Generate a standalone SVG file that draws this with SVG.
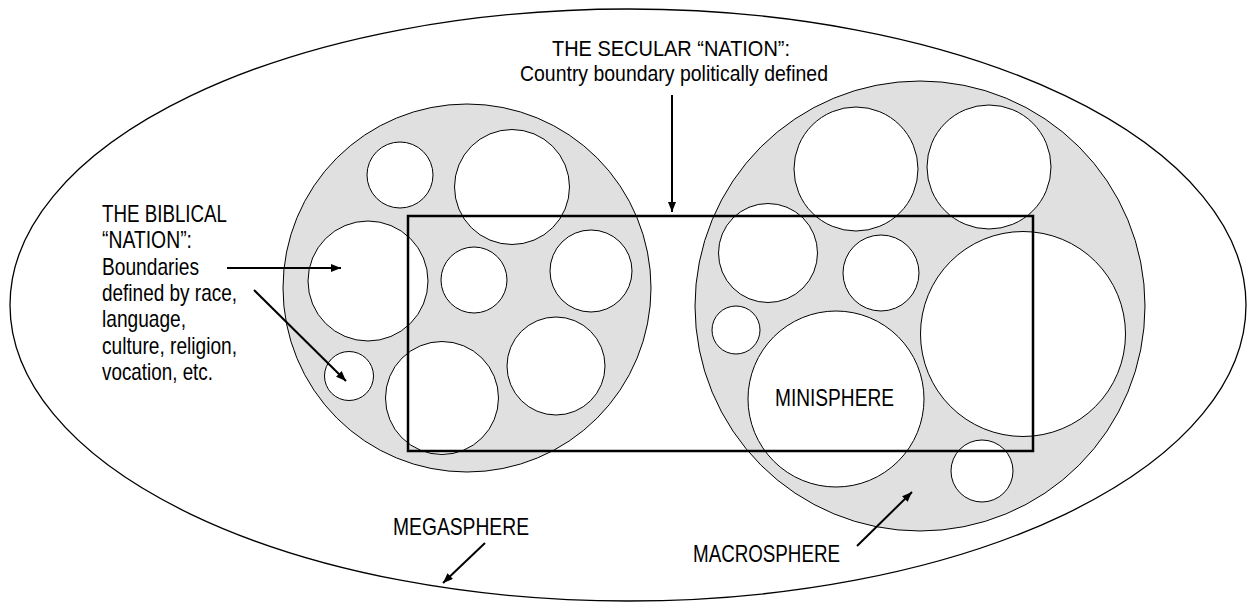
<svg xmlns="http://www.w3.org/2000/svg" width="1248" height="602" viewBox="0 0 1248 602">
<style>
.lbl{font-family:"Liberation Sans Narrow","Liberation Sans",Arial,sans-serif;font-size:24px;fill:#000}
.ttl{font-size:21.5px}
.macro{fill:#e0e0e0;stroke:#000;stroke-width:1}
.mini{fill:#fff;stroke:#000;stroke-width:1}
.arrow{stroke:#000;stroke-width:2;fill:none;marker-end:url(#ah)}
</style>
<defs>
<marker id="ah" markerUnits="userSpaceOnUse" markerWidth="10" markerHeight="8" refX="10" refY="4" orient="auto">
<path d="M0,0 L10,4 L0,8 z" fill="#000"/>
</marker>
</defs>
<rect width="1248" height="602" fill="#fff"/>
<g id="megasphere">
<ellipse cx="628" cy="305" rx="618" ry="296" fill="#fff" stroke="#000" stroke-width="1.3"/>
</g>
<g id="macrosphere-left">
<circle class="macro" cx="467" cy="288" r="184"/>
<circle class="mini" cx="400" cy="175" r="33"/>
<circle class="mini" cx="512" cy="187" r="57.5"/>
<circle class="mini" cx="368" cy="281" r="60"/>
<circle class="mini" cx="474" cy="280" r="33"/>
<circle class="mini" cx="591" cy="271" r="41"/>
<circle class="mini" cx="349" cy="376" r="24.5"/>
<circle class="mini" cx="442" cy="398" r="56.5"/>
<circle class="mini" cx="556" cy="366" r="49"/>
</g>
<g id="macrosphere-right">
<circle class="macro" cx="920" cy="306" r="225"/>
<circle class="mini" cx="856" cy="169" r="62"/>
<circle class="mini" cx="989" cy="167" r="62"/>
<circle class="mini" cx="768" cy="253" r="49.5"/>
<circle class="mini" cx="881" cy="273" r="38"/>
<circle class="mini" cx="1023" cy="334" r="102.5"/>
<circle class="mini" cx="736" cy="330" r="24"/>
<circle class="mini" cx="836" cy="399" r="88"/>
<circle class="mini" cx="982" cy="471" r="31"/>
</g>
<g id="secular-nation">
<rect x="408" y="216" width="625" height="235" fill="none" stroke="#000" stroke-width="2.5"/>
</g>
<g id="label-secular">
<text class="lbl ttl" x="552" y="55.5" textLength="238" lengthAdjust="spacingAndGlyphs">THE  SECULAR  “NATION”:</text>
<text class="lbl ttl" x="520" y="80.5" textLength="308" lengthAdjust="spacingAndGlyphs">Country boundary politically defined</text>
</g>
<g id="label-biblical">
<text class="lbl" x="102" y="221.5" textLength="125" lengthAdjust="spacingAndGlyphs">THE BIBLICAL</text>
<text class="lbl" x="102" y="248" textLength="90" lengthAdjust="spacingAndGlyphs">“NATION”:</text>
<text class="lbl" x="102" y="274.5" textLength="97" lengthAdjust="spacingAndGlyphs">Boundaries</text>
<text class="lbl" x="102" y="301" textLength="135" lengthAdjust="spacingAndGlyphs">defined by race,</text>
<text class="lbl" x="102" y="327" textLength="84" lengthAdjust="spacingAndGlyphs">language,</text>
<text class="lbl" x="102" y="353.5" textLength="135" lengthAdjust="spacingAndGlyphs">culture, religion,</text>
<text class="lbl" x="102" y="380" textLength="111" lengthAdjust="spacingAndGlyphs">vocation, etc.</text>
</g>
<g id="label-minisphere">
<text class="lbl" x="775" y="405.5" textLength="119" lengthAdjust="spacingAndGlyphs">MINISPHERE</text>
</g>
<g id="label-megasphere">
<text class="lbl" x="393" y="535" textLength="136" lengthAdjust="spacingAndGlyphs">MEGASPHERE</text>
</g>
<g id="label-macrosphere">
<text class="lbl" x="693" y="562" textLength="147" lengthAdjust="spacingAndGlyphs">MACROSPHERE</text>
</g>
<g id="connectors">
<line class="arrow" x1="672" y1="95" x2="672" y2="212"/>
<line class="arrow" x1="227" y1="268" x2="341" y2="268"/>
<line class="arrow" x1="254" y1="290" x2="346" y2="381"/>
<line class="arrow" x1="485" y1="543" x2="443" y2="583"/>
<line class="arrow" x1="857" y1="546" x2="912" y2="492"/>
</g>
</svg>
